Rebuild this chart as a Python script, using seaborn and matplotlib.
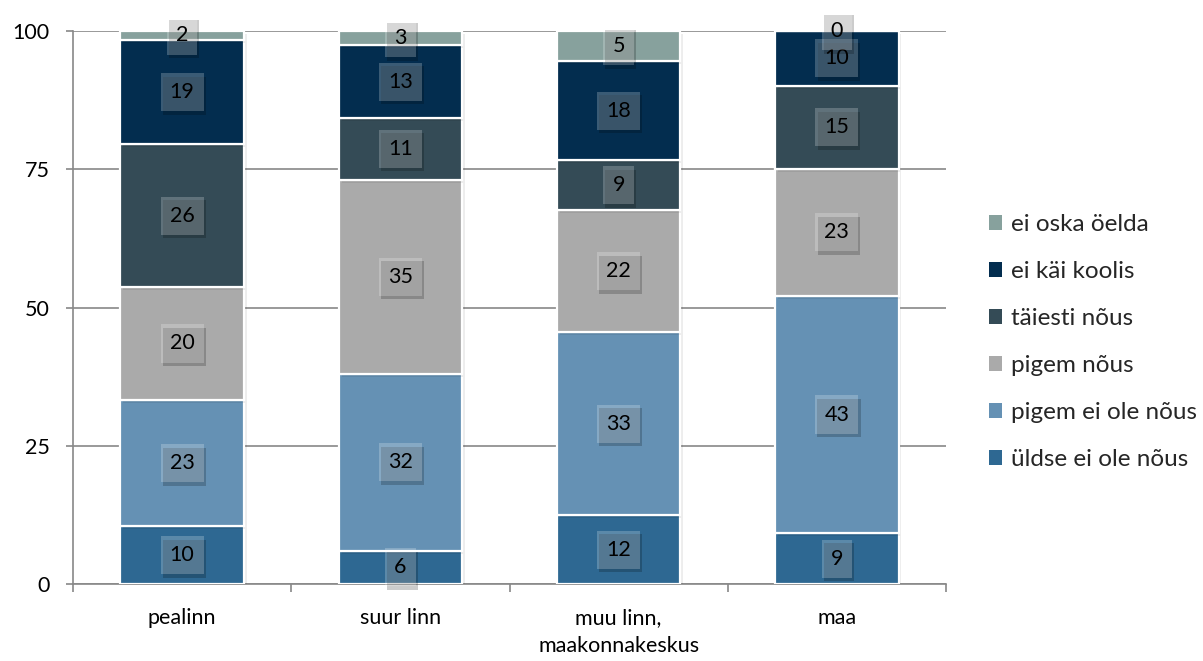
import matplotlib
matplotlib.use("Agg")
import matplotlib.pyplot as plt
import matplotlib.patheffects as pe
from matplotlib.patches import Patch
import seaborn as sns
import pandas as pd

categories = ["pealinn", "suur linn", "muu linn,\nmaakonnakeskus", "maa"]
series_names = ["üldse ei ole nõus", "pigem ei ole nõus", "pigem nõus",
                "täiesti nõus", "ei käi koolis", "ei oska öelda"]
uldse_ei = [10.4, 6.0, 12.4, 9.2]
pigem_ei = [22.9, 32.0, 33.1, 42.9]
pigem_nous = [20.4, 35.1, 22.1, 23.0]
taiesti = [25.8, 11.2, 9.0, 15.0]
ei_kai = [18.9, 13.1, 18.0, 9.9]
ei_oska = [1.6, 2.6, 5.4, 0.0]
colors = ["#2E6892", "#6591B4", "#AAAAAA", "#344B56", "#032D4F", "#87A19D"]
y_ticks = [0, 25, 50, 75, 100]

series_values = [uldse_ei, pigem_ei, pigem_nous, taiesti, ei_kai, ei_oska]

sns.set_theme(style="white")
plt.rcParams["font.family"] = ["Lato", "DejaVu Sans"]

fig = plt.figure(figsize=(12.03, 6.61), dpi=100)
ax = fig.add_axes([0.0607, 0.1165, 0.7257, 0.8365])

bottoms = [0.0] * len(categories)
shadow = [pe.SimplePatchShadow(offset=(2, -2), shadow_rgbFace="#000000", alpha=0.07), pe.Normal()]
for name, vals, col in zip(series_names, series_values, colors):
    df = pd.DataFrame({"cat": categories, "val": vals})
    sns.barplot(data=df, x="cat", y="val", order=categories, color=col,
                bottom=bottoms, width=0.565, ax=ax, edgecolor="white",
                linewidth=1.6, saturation=1, zorder=3)
    cont = ax.containers[-1]
    for p in cont.patches:
        p.set_path_effects(shadow)
    labels = ax.bar_label(cont, labels=[f"{v:.0f}" for v in vals], label_type="center",
                          fontsize=15.5, color="black", zorder=6,
                          bbox=dict(boxstyle="square,pad=0.42", facecolor="white",
                                    alpha=0.22, edgecolor="none"))
    for t in labels:
        t.get_bbox_patch().set_path_effects(
            [pe.SimplePatchShadow(offset=(1.5, -2.5), shadow_rgbFace="#000000", alpha=0.2), pe.Normal()])
    bottoms = [b + v for b, v in zip(bottoms, vals)]

ax.set_xlim(-0.5, len(categories) - 0.5)
ax.set_ylim(0, 100)
ax.set_yticks(y_ticks)
ax.set_yticklabels([str(t) for t in y_ticks])
ax.set_xlabel("")
ax.set_ylabel("")
ax.grid(axis="y", color="#888888", linewidth=1.2, zorder=0)
ax.set_axisbelow(True)
for s in ["top", "right"]:
    ax.spines[s].set_visible(False)
for s in ["left", "bottom"]:
    ax.spines[s].set_color("#888888")
    ax.spines[s].set_linewidth(1.2)
    ax.spines[s].set_zorder(1)

ax.set_xticks(range(len(categories)))
ax.set_xticklabels(categories, fontsize=15.5, color="black", linespacing=1.55)
ax.tick_params(axis="x", length=0, pad=17)
ax.tick_params(axis="y", length=5, width=1.2, color="#888888", labelsize=15.5,
               labelcolor="black", pad=12, left=True)
ax.set_xticks([i + 0.5 for i in range(-1, len(categories))], minor=True)
ax.tick_params(axis="x", which="minor", length=6, width=1.2, color="#888888", bottom=True)

handles = [Patch(facecolor=c, edgecolor="none") for c in colors][::-1]
fig.legend(handles, series_names[::-1], loc="center left",
           bbox_to_anchor=(0.822, 0.4826), frameon=False, fontsize=17.5,
           handlelength=0.55, handleheight=0.55, handletextpad=0.35,
           labelspacing=1.07, borderpad=0, borderaxespad=0)

fig.savefig("out.png", dpi=100)
